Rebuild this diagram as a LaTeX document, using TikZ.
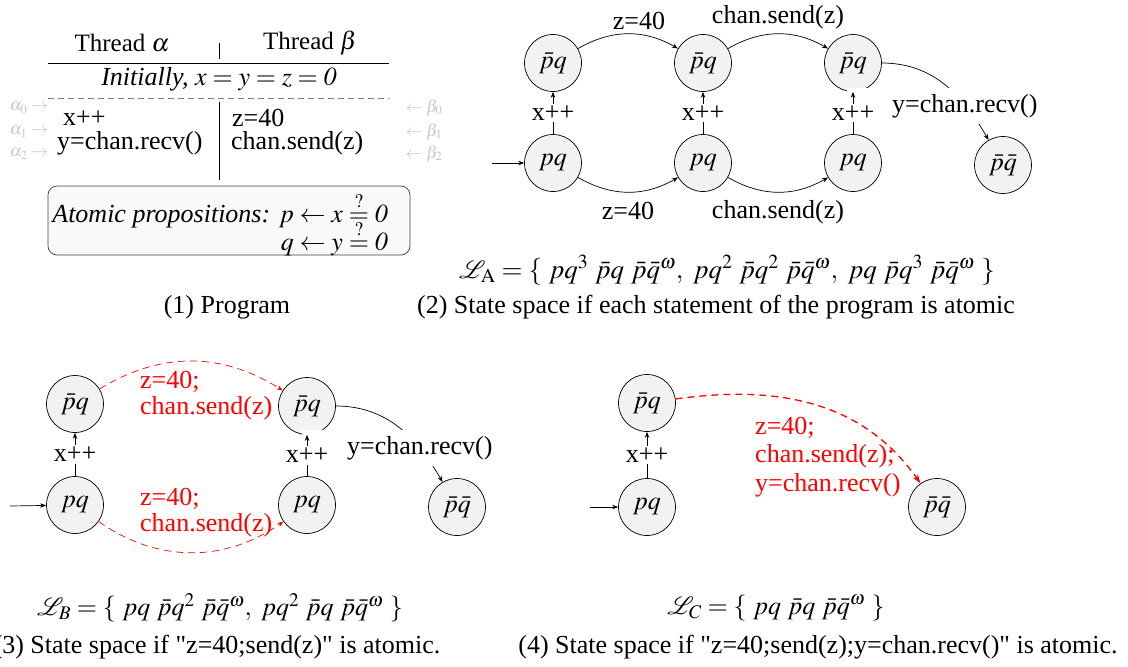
\documentclass[tikz,border=0pt]{standalone}
\usepackage{mathptmx}
\usepackage{mathrsfs}
\usepackage{fontspec}
\setmainfont{Liberation Serif}
\usetikzlibrary{arrows.meta}
\tikzset{
  state/.style={circle, draw, fill=gray!10, minimum size=57pt, inner sep=0pt, line width=0.7pt},
  tr/.style={-{Stealth[length=6pt,width=4.5pt]}, line width=0.7pt},
  lbl/.style={fill=white, inner sep=2pt},
  rtr/.style={tr, red, dash pattern=on 7pt off 5pt},
  rtrb/.style={-{Stealth[length=9pt,width=6pt]}, red, line width=1.3pt, dash pattern=on 7pt off 5pt},
  cut/.style={fill=white, inner xsep=0pt, inner ysep=6pt, anchor=west},
  pc/.style={gray!45, font=\fontsize{17}{19}\selectfont, inner sep=0pt},
  rlab/.style={red, align=left, inner sep=0pt, anchor=base west},
}
\newcommand{\qq}{\textquotedbl}
\begin{document}
\begin{tikzpicture}[x=1pt,y=-1pt,font=\fontsize{26}{30}\selectfont]
\useasboundingbox (0,0) rectangle (1128,667);

% ---------- Panel 1: program ----------
\node[font=\fontsize{25}{29}\selectfont] (ta) at (122,43) {Thread $\alpha$};
\node[font=\fontsize{25}{29}\selectfont] (tb) at (310,43) {Thread $\beta$};
\draw[line width=0.6pt] (219,43) -- (219,59);
\draw[line width=0.7pt] (48,63) -- (389,63);
\node (init) at (219,79) {\textit{Initially,} $x=y=z=\mathit{0}$};
\draw[gray, dash pattern=on 6pt off 4pt, line width=0.7pt] (48,98) -- (389,98);
\draw[line width=0.7pt] (219,102) -- (219,180);
\node[anchor=west, inner sep=0pt] (s1) at (63,118) {x++};
\node[anchor=west, inner sep=0pt] (s2) at (57,143) {y=chan.recv()};
\node[anchor=west, inner sep=0pt] (s3) at (232,118) {z=40};
\node[anchor=west, inner sep=0pt] (s4) at (231,143) {chan.send(z)};
\node[pc] (pa0) at (29,108) {$\alpha_0\rightarrow$};
\node[pc] (pa1) at (29,132) {$\alpha_1\rightarrow$};
\node[pc] (pa2) at (29,154) {$\alpha_2\rightarrow$};
\node[pc] (pb0) at (424,108) {$\leftarrow\beta_0$};
\node[pc] (pb1) at (424,132) {$\leftarrow\beta_1$};
\node[pc] (pb2) at (424,154) {$\leftarrow\beta_2$};
\draw[rounded corners=9pt, fill=gray!5, draw=black!75, line width=0.7pt] (48,186) rectangle (410,255);
\node[anchor=east, align=right, inner sep=0pt] (ap) at (388,224)
  {\textit{Atomic propositions:} $p\leftarrow x\stackrel{?}{=}\mathit{0}$\\[-9pt] $q\leftarrow y\stackrel{?}{=}\mathit{0}$};
\node (c1) at (227,307) {(1) Program};

% ---------- Panel 2 ----------
\node[state] (a1t) at (553,63) {$\bar pq$};
\node[state] (a2t) at (703,63) {$\bar pq$};
\node[state] (a3t) at (853,63) {$\bar pq$};
\node[state] (a1b) at (553,163) {$pq$};
\node[state] (a2b) at (703,163) {$pq$};
\node[state] (a3b) at (853,163) {$pq$};
\node[state] (a4) at (1003,165) {$\bar p\bar q$};
\coordinate (a0) at (492,163);
\draw[tr] (a0) -- (a1b);
\draw[tr] (a1t) to[bend left=30] node[above=1pt, xshift=11pt] {z=40} (a2t);
\draw[tr] (a2t) to[bend left=30] node[above=1pt] {chan.send(z)} (a3t);
\draw[tr] (a1b) to[bend right=30] node[below=6pt] {z=40} (a2b);
\draw[tr] (a2b) to[bend right=30] node[below=5pt] {chan.send(z)} (a3b);
\draw[tr] (a3t.east) to[out=0, in=120] (a4);
\node[cut] (ar) at (847,106) {\hspace{45pt}y=chan.recv()};
\draw[tr] (a1b) -- node[lbl] {x++} (a1t);
\draw[tr] (a2b) -- node[lbl] {x++} (a2t);
\draw[tr] (a3b) -- node[lbl] {x++} (a3t);
\node[font=\fontsize{27}{31}\selectfont] (la) at (727,270) {$\mathscr{L}_{\mathrm{A}} = \{\ pq^3\ \bar pq\ \bar p\bar q^\omega,\ pq^2\ \bar pq^2\ \bar p\bar q^\omega,\ pq\ \bar pq^3\ \bar p\bar q^\omega\ \}$};
\node (c2) at (716,307) {(2) State space if each statement of the program is atomic};

% ---------- Panel 3 ----------
\node[state] (b1t) at (75,404) {$\bar pq$};
\node[state] (b2t) at (307,406) {$\bar pq$};
\node[state] (b1b) at (75,505) {$pq$};
\node[state] (b2b) at (307,505) {$pq$};
\node[state] (b3) at (457,507) {$\bar p\bar q$};
\coordinate (b0) at (10,506);
\draw[tr] (b0) -- (b1b);
\draw[rtr] (b1t) to[bend left=32] (b2t);
\draw[rtr] (b1b) to[bend right=35] (b2b);
\node[rlab, font=\fontsize{26}{26}\selectfont] (bl1) at (140,414) {z=40;\\chan.send(z)};
\node[rlab, font=\fontsize{26}{26}\selectfont] (bl2) at (140,531) {z=40;\\chan.send(z)};
\draw[tr] (b2t.east) to[out=0, in=120] (b3);
\node[cut] (br) at (302,448) {\hspace{45pt}y=chan.recv()};
\draw[tr] (b1b) -- node[lbl] {x++} (b1t);
\draw[tr] (b2b) -- node[lbl] {x++} (b2t);
\node (lb) at (220,608) {$\mathscr{L}_B = \{\ pq\ \bar pq^2\ \bar p\bar q^\omega,\ pq^2\ \bar pq\ \bar p\bar q^\omega\ \}$};
\node (c3) at (217,647) {(3) State space if \qq z=40;send(z)\qq{} is atomic.};

% ---------- Panel 4 ----------
\node[state] (c1t) at (647,403) {$\bar pq$};
\node[state] (c1b) at (647,507) {$pq$};
\node[state] (c2s) at (937,507) {$\bar p\bar q$};
\coordinate (c0) at (590,507);
\draw[tr] (c0) -- (c1b);
\draw[tr] (c1b) -- node[lbl] {x++} (c1t);
\draw[rtrb] (c1t) to[out=8, in=125] (c2s);
\node[rlab, font=\fontsize{26}{28.5}\selectfont] (cl) at (755,491) {z=40;\\chan.send(z);\\y=chan.recv()};
\node (lc) at (776,608) {$\mathscr{L}_C = \{\ pq\ \bar pq\ \bar p\bar q^\omega\ \}$};
\node (c4) at (818,647) {(4) State space if \qq z=40;send(z);y=chan.recv()\qq{} is atomic.};
\end{tikzpicture}
\end{document}
